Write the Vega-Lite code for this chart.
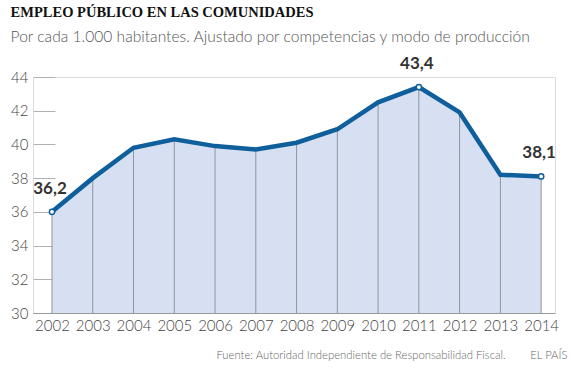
{
  "$schema": "https://vega.github.io/schema/vega-lite/v6.json",
  "autosize": {"type": "none"},
  "width": 522,
  "height": 236,
  "padding": {"left": 33, "top": 77, "right": 16, "bottom": 63},
  "background": "white",
  "title": {
    "text": "EMPLEO PÚBLICO EN LAS COMUNIDADES",
    "subtitle": "Por cada 1.000 habitantes. Ajustado por competencias y modo de producción",
    "anchor": "start",
    "frame": "bounds",
    "font": "Liberation Serif",
    "fontSize": 14.5,
    "fontWeight": "bold",
    "color": "#111",
    "subtitleFont": "Lato",
    "subtitleFontSize": 15.6,
    "subtitleFontWeight": 300,
    "subtitleColor": "#555",
    "subtitlePadding": 9,
    "offset": 9
  },
  "data": {
    "values": [
      {"year": 2002, "value": 36.0, "label": "36,2"},
      {"year": 2003, "value": 38.0},
      {"year": 2004, "value": 39.8},
      {"year": 2005, "value": 40.3},
      {"year": 2006, "value": 39.9},
      {"year": 2007, "value": 39.7},
      {"year": 2008, "value": 40.1},
      {"year": 2009, "value": 40.9},
      {"year": 2010, "value": 42.5},
      {"year": 2011, "value": 43.4, "label": "43,4"},
      {"year": 2012, "value": 41.9},
      {"year": 2013, "value": 38.2},
      {"year": 2014, "value": 38.1, "label": "38,1"}
    ]
  },
  "encoding": {
    "x": {
      "field": "year",
      "type": "quantitative",
      "scale": {"domain": [2001.534, 2014.34], "nice": false, "zero": false},
      "axis": {
        "values": [2002, 2003, 2004, 2005, 2006, 2007, 2008, 2009, 2010, 2011, 2012, 2013, 2014],
        "format": "d",
        "grid": false,
        "ticks": false,
        "labelPadding": 5,
        "labelFont": "Lato",
        "labelFontSize": 15,
        "labelFontWeight": 300,
        "labelColor": "#444",
        "labelFlush": false,
        "labelOverlap": false,
        "domainColor": "#999",
        "domainWidth": 1,
        "title": "Fuente: Autoridad Independiente de Responsabilidad Fiscal.\u00a0\u00a0\u00a0\u00a0\u00a0\u00a0\u00a0\u00a0EL PAÍS",
        "titleFont": "Lato",
        "titleFontSize": 11.3,
        "titleFontWeight": 300,
        "titleColor": "#666",
        "titleAnchor": "end",
        "titleAlign": "right",
        "titleBaseline": "alphabetic",
        "titleX": 534,
        "titleY": 45
      }
    },
    "y": {
      "field": "value",
      "type": "quantitative",
      "scale": {"domain": [30, 44], "nice": false, "zero": false},
      "axis": {
        "values": [30, 32, 34, 36, 38, 40, 42, 44],
        "grid": true,
        "gridColor": "#b0b0b0",
        "gridWidth": 1,
        "gridOpacity": 1,
        "gridDash": [22, 1000],
        "domain": false,
        "ticks": false,
        "labelPadding": 5,
        "labelFont": "Lato",
        "labelFontSize": 15,
        "labelFontWeight": 300,
        "labelColor": "#444",
        "title": null
      }
    }
  },
  "layer": [
    {
      "mark": {"type": "area", "color": "#d7e0f3"},
      "encoding": {"y2": {"datum": 30}}
    },
    {
      "mark": {"type": "rule", "color": "#8e949c", "strokeWidth": 1},
      "encoding": {"y2": {"datum": 30}}
    },
    {
      "mark": {"type": "line", "color": "#0f5f9c", "strokeWidth": 4.5}
    },
    {
      "transform": [{"filter": "datum.label != null"}],
      "mark": {"type": "point", "filled": true, "fill": "white", "stroke": "#0f5f9c", "strokeWidth": 1.5, "size": 28, "opacity": 1}
    },
    {
      "transform": [{"filter": "datum.label != null"}],
      "mark": {"type": "text", "dy": -14, "dx": -2, "baseline": "bottom", "font": "Lato", "fontSize": 17, "fontWeight": "bold", "color": "#333"},
      "encoding": {"text": {"field": "label"}}
    }
  ]
}
